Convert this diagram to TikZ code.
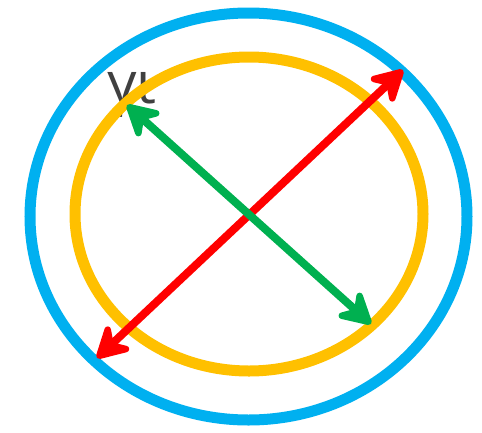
\documentclass[tikz,border=0pt]{standalone}
\usepackage{fontspec}
\newfontfamily\labelfont{Open Sans}
\usepackage{tikz}
\usetikzlibrary{arrows.meta}
\definecolor{skyblue}{HTML}{00B0F0}
\definecolor{ringgold}{HTML}{FFC000}
\definecolor{arrowred}{HTML}{FF0000}
\definecolor{arrowgreen}{HTML}{00B050}
\definecolor{labelgray}{HTML}{404040}

\begin{document}
\begin{tikzpicture}[x=1pt, y=-1pt,
    ring/.style={line width=11pt},
    diam/.style={line width=8pt, {Stealth[round, length=40pt, width=44pt, inset=14pt]}-{Stealth[round, length=40pt, width=44pt, inset=14pt]}}]
    \useasboundingbox (0,0) rectangle (482,432);
    \node[labelgray, anchor=base west, inner sep=0pt, font=\labelfont\fontsize{58}{58}\selectfont] (gammaLabel) at (107,103) {γι};
    \draw[ring, skyblue] (248.5,216.5) ellipse [x radius=218.5, y radius=203.5];
    \draw[ring, ringgold] (249,214) ellipse [x radius=174, y radius=157];
    \coordinate (redA) at (97,358);
    \coordinate (redB) at (403,70);
    \coordinate (greenA) at (127,105);
    \coordinate (greenB) at (371,324);
    \draw[diam, arrowred] (redA) -- (redB);
    \draw[diam, arrowgreen] (greenA) -- (greenB);
\end{tikzpicture}
\end{document}
